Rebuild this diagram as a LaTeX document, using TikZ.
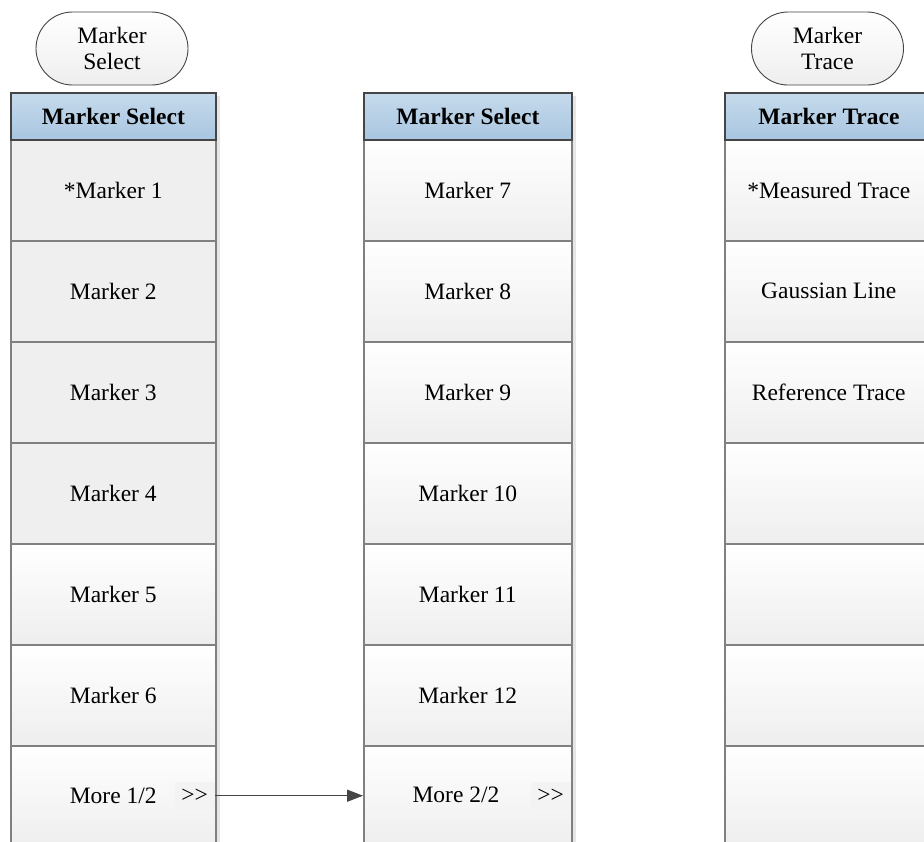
\documentclass[tikz,border=0pt]{standalone}
\usepackage{fontspec}
\setmainfont{Liberation Serif}
\usetikzlibrary{arrows.meta,shapes.misc}
\definecolor{hdrtop}{HTML}{C6DAEC}
\definecolor{hdrbot}{HTML}{A8C6E0}
\definecolor{cellgray}{HTML}{EFEFEF}
\definecolor{gradbot}{HTML}{EEEEEE}
\definecolor{edgegray}{HTML}{808080}
\definecolor{darkline}{HTML}{454545}
\definecolor{gtfill}{HTML}{F3F3F3}
\definecolor{shadowgray}{HTML}{E6E6E6}
\tikzset{
  txt/.style={font=\fontsize{23.5}{26}\selectfont, text=black},
  cellbase/.style={txt, draw=edgegray, line width=1.5pt, minimum height=101pt, inner sep=0pt, anchor=north west},
  flatcell/.style={cellbase, fill=cellgray},
  gradcell/.style={cellbase, top color=white, bottom color=gradbot},
  hdr/.style={txt, font=\fontsize{23.5}{26}\selectfont\bfseries, draw=darkline, line width=1.8pt, top color=hdrtop, bottom color=hdrbot, minimum height=47pt, inner sep=0pt, anchor=north west},
  softkey/.style={txt, rounded rectangle, draw=darkline, line width=0.9pt, top color=white, bottom color=gradbot, minimum width=152pt, minimum height=73pt, align=center, inner sep=0pt},
  gtbox/.style={txt, fill=gtfill, minimum width=40pt, minimum height=28pt, inner sep=0pt, anchor=north west},
  linkarrow/.style={draw=darkline, line width=1.5pt, -{Triangle[length=16pt,width=12pt]}}
}
\begin{document}
\begin{tikzpicture}[x=1pt,y=-1pt]
\path[use as bounding box] (0,0) rectangle (924,841);
\clip (0,0) rectangle (924,841);
\fill[white] (0,0) rectangle (924,841);
% shadows
\fill[shadowgray] (216,96) rectangle (219.5,850);
\fill[shadowgray] (572,96) rectangle (575.5,850);
% soft keys
\node[softkey] (skL) at (112,48.5) {Marker\\Select};
\node[softkey] (skR) at (827.5,48.5) {Marker\\Trace};
% left column
\foreach \t [count=\i from 0] in {*Marker 1,Marker 2,Marker 3,Marker 4}
  \node[flatcell, minimum width=205pt] (L\i) at (10,{139+101*\i}) {\t};
\foreach \t [count=\i from 4] in {Marker 5,Marker 6,More 1/2}
  \node[gradcell, minimum width=205pt] (L\i) at (10,{139+101*\i}) {\t};
\node[hdr, minimum width=205pt] (Lh) at (10,92) {Marker Select};
% middle column
\foreach \t [count=\i from 0] in {Marker 7,Marker 8,Marker 9,Marker 10,Marker 11,Marker 12}
  \node[gradcell, minimum width=208pt] (M\i) at (363,{139+101*\i}) {\t};
\node[gradcell, minimum width=208pt] (M6) at (363,745) {};
\node[txt] (M6t) at (456,795) {More 2/2};
\node[hdr, minimum width=208pt] (Mh) at (363,92) {Marker Select};
% right column
\foreach \t [count=\i from 0] in {*Measured Trace,Gaussian Line,Reference Trace}
  \node[gradcell, minimum width=208pt] (R\i) at (724,{139+101*\i}) {\t};
\foreach \i in {3,4,5,6}
  \node[gradcell, minimum width=208pt] (R\i) at (724,{139+101*\i}) {};
\node[hdr, minimum width=208pt] (Rh) at (724,92) {Marker Trace};
% >> boxes
\node[gtbox] (g1) at (174.5,781.5) {>{}>};
\node[gtbox] (g2) at (530.5,781.5) {>{}>};
% link arrow
\draw[linkarrow] (g1.east) -- (g1.east -| M6.west);
\end{tikzpicture}
\end{document}
